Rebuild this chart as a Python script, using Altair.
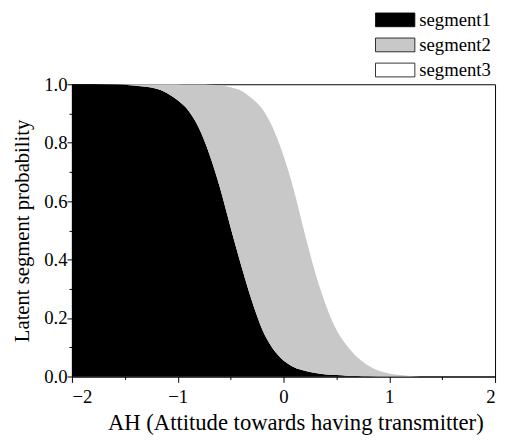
import altair as alt
import pandas as pd

# x grid (AH attitude) and cumulative boundaries
xs = [-2.0, -1.6, -1.4, -1.2, -1.0, -0.9, -0.8, -0.7, -0.6, -0.5, -0.4, -0.3, -0.2, -0.1,
      0.0, 0.1, 0.2, 0.3, 0.4, 0.5, 0.6, 0.7, 0.8, 1.0, 1.2, 1.4, 2.0]
# top of segment1 (black)
c1 = [1.0, 0.999, 0.995, 0.985, 0.945, 0.91, 0.85, 0.76, 0.645, 0.51, 0.38, 0.26, 0.16, 0.095,
      0.055, 0.032, 0.02, 0.012, 0.007, 0.005, 0.003, 0.002, 0.001, 0.0, 0.0, 0.0, 0.0]
# top of segment2 (grey) = segment1 + segment2
c2 = [1.0, 1.0, 1.0, 1.0, 1.0, 0.999, 0.999, 0.998, 0.996, 0.99, 0.978, 0.952, 0.915, 0.85,
      0.755, 0.635, 0.49, 0.355, 0.245, 0.16, 0.105, 0.065, 0.038, 0.01, 0.002, 0.0, 0.0]

segments = ["segment1", "segment2", "segment3"]
seg_colors = ["#000000", "#c8c8c8", "#ffffff"]

rows = []
for i, x in enumerate(xs):
    rows.append({"x": x, "segment": "segment1", "lo": 0.0, "hi": c1[i]})
    rows.append({"x": x, "segment": "segment2", "lo": c1[i], "hi": c2[i]})
df = pd.DataFrame(rows)  # segment3 is the white remainder above segment2

x_ticks = [-2, -1.5, -1, -0.5, 0, 0.5, 1, 1.5, 2]
y_ticks = [0, 0.1, 0.2, 0.3, 0.4, 0.5, 0.6, 0.7, 0.8, 0.9, 1.0]

chart = alt.Chart(df).mark_area(interpolate="monotone").encode(
    x=alt.X("x:Q", scale=alt.Scale(domain=[-2, 2], nice=False, zero=False),
            axis=alt.Axis(values=x_ticks, title="AH (Attitude towards having transmitter)",
                          labelExpr="datum.value % 1 == 0 ? format(datum.value, 'd') : ''",
                          tickSize={"expr": "datum.value % 1 == 0 ? 6 : 3"},
                          grid=False, labelPadding=5, titlePadding=6,
                          titleFontSize=23, titleX=227)),
    y=alt.Y("hi:Q", scale=alt.Scale(domain=[0, 1], nice=False),
            axis=alt.Axis(values=y_ticks, title="Latent segment probability",
                          labelExpr="round(datum.value*10) % 2 == 0 ? format(datum.value, '.1f') : ''",
                          tickSize={"expr": "round(datum.value*10) % 2 == 0 ? 5 : 3"},
                          grid=False, labelPadding=0, titlePadding=11)),
    y2="lo:Q",
    color=alt.Color("segment:N", scale=alt.Scale(domain=segments, range=seg_colors),
                    legend=alt.Legend(title=None, orient="none", legendX=319, legendY=-75,
                                      symbolType="M-2.857,-1L2.857,-1L2.857,1L-2.857,1Z",
                                      symbolSize=196, symbolStrokeColor="black",
                                      symbolStrokeWidth=0.8, symbolOpacity=1,
                                      labelFont="Liberation Serif", labelFontSize=19,
                                      labelColor="black", labelOffset=15, rowPadding=5.5)),
).properties(
    width=430, height=297,
    padding={"left": 65, "top": 74, "right": 3, "bottom": 60},
    autosize=alt.AutoSizeParams(type="none"),
).configure_view(
    stroke="black", strokeWidth=1
).configure_axis(
    labelFont="Liberation Serif", labelFontSize=19, labelColor="black",
    titleFont="Liberation Serif", titleFontSize=21, titleFontWeight="normal", titleColor="black",
    domainColor="black", tickColor="black"
)

chart.save("out.html", embed_options={"renderer": "svg", "actions": False})
